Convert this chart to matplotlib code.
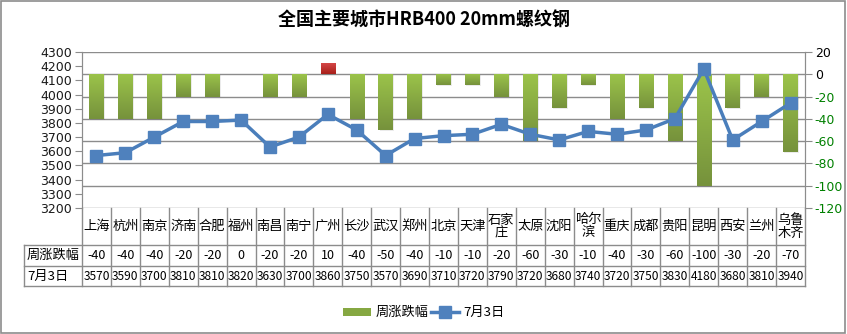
import numpy as np
import matplotlib
matplotlib.use("Agg")
import matplotlib.pyplot as plt
from matplotlib.colors import LinearSegmentedColormap
from matplotlib.patches import Rectangle

plt.rcParams['font.family'] = ['Noto Sans CJK SC', 'DejaVu Sans']

# ---- data ----
cities = ["上海", "杭州", "南京", "济南", "合肥", "福州", "南昌", "南宁", "广州", "长沙",
          "武汉", "郑州", "北京", "天津", "石家\n庄", "太原", "沈阳", "哈尔\n滨", "重庆", "成都",
          "贵阳", "昆明", "西安", "兰州", "乌鲁\n木齐"]
weekly_change = [-40, -40, -40, -20, -20, 0, -20, -20, 10, -40,
                 -50, -40, -10, -10, -20, -60, -30, -10, -40, -30,
                 -60, -100, -30, -20, -70]
price_0703 = [3570, 3590, 3700, 3810, 3810, 3820, 3630, 3700, 3860, 3750,
              3570, 3690, 3710, 3720, 3790, 3720, 3680, 3740, 3720, 3750,
              3830, 4180, 3680, 3810, 3940]
row_names = ["周涨跌幅", "7月3日"]
left_ticks = np.arange(3200, 4301, 100)
right_ticks = np.arange(-120, 21, 20)

W, H = 847, 334
fig = plt.figure(figsize=(W / 100, H / 100), dpi=100)

# pixel -> figure fraction helpers
def fx(px):
    return px / W

def fy(py):
    return 1 - py / H

x_left, x_right, y_top, y_bot = 82, 805, 52, 208
ax = fig.add_axes([fx(x_left), fy(y_bot), fx(x_right - x_left), (y_bot - y_top) / H])
ax2 = ax.twinx()

n = len(cities)
x = np.arange(n)

# right axis: weekly change bars
for yv in right_ticks:
    ax2.axhline(yv, color="#8c8c8c", lw=1, zorder=0)

green = LinearSegmentedColormap.from_list("g", ["#76923c", "#9bc34a"])
red = LinearSegmentedColormap.from_list("r", ["#a8201a", "#d84a4a"])
grad = np.linspace(0, 1, 64).reshape(-1, 1)
bars = ax2.bar(x, weekly_change, width=0.5, color="none", edgecolor="none", zorder=2)
for b, v in zip(bars, weekly_change):
    if v == 0:
        continue
    x0 = b.get_x()
    x1 = x0 + b.get_width()
    y0, y1 = min(0, v), max(0, v)
    cmap = green if v < 0 else red
    ax2.add_patch(Rectangle((x0 + 0.04, y0 - 0.8), b.get_width(), y1 - y0,
                            color="#000000", alpha=0.08, lw=0, zorder=1))
    im = ax2.imshow(grad, cmap=cmap, extent=(x0, x1, y0, y1), aspect="auto",
                    origin="lower", zorder=2)
    im.set_clip_path(b)
ax2.set_xlim(-0.5, n - 0.5)
ax2.set_ylim(-120, 20)
ax2.set_yticks(right_ticks)
ax2.set_yticklabels([str(v) for v in right_ticks], family="DejaVu Sans")

# left axis: price line
ax.set_ylim(3200, 4300)
ax.set_yticks(left_ticks)
ax.set_yticklabels([str(v) for v in left_ticks], family="DejaVu Sans")
ax.set_xlim(-0.5, n - 0.5)
ax.set_zorder(ax2.get_zorder() + 1)
ax.patch.set_visible(False)
ax.plot(x, price_0703, color="#4a7ebb", lw=2.5, marker="s", markersize=8,
        markerfacecolor="#4f81bd", markeredgecolor="#4f81bd", zorder=3)

for a in (ax, ax2):
    a.set_xticks([])
    for s in ("top", "bottom"):
        a.spines[s].set_visible(False)
    a.spines["left"].set_color("#8c8c8c")
    a.spines["right"].set_color("#8c8c8c")
    a.tick_params(axis="y", length=5, color="#8c8c8c", labelsize=9, pad=2)
ax.tick_params(axis="y", labelcolor="#1a1a1a")
for lbl, v in zip(ax2.get_yticklabels(), right_ticks):
    lbl.set_color("#008000" if v < 0 else "#000000")

# ---- data table below the chart ----
row_city = (208, 245)
row1 = (245, 266)
row2 = (266, 286)
tbl_left = 24
lc = "#8c8c8c"

def hline(py, xa, xb):
    fig.add_artist(plt.Line2D([fx(xa), fx(xb)], [fy(py), fy(py)], color=lc, lw=1))

def vline(px, ya, yb):
    fig.add_artist(plt.Line2D([fx(px), fx(px)], [fy(ya), fy(yb)], color=lc, lw=1))

for py in (245, 266, 286):
    hline(py, tbl_left, x_right)
vline(tbl_left, 245, 286)
vline(x_left, 208, 286)
cw = (x_right - x_left) / n
for i in range(n):
    vline(x_left + cw * (i + 1), 208, 286)

for i in range(n):
    cx = fx(x_left + cw * (i + 0.5))
    fig.text(cx, fy(sum(row_city) / 2), cities[i], ha="center", va="center",
             fontsize=9.5, linespacing=1.0)
    fig.text(cx, fy(sum(row1) / 2), str(weekly_change[i]), ha="center", va="center",
             fontsize=9)
    fig.text(cx, fy(sum(row2) / 2), str(price_0703[i]), ha="center", va="center",
             fontsize=8.6)
fig.text(fx(tbl_left + 3), fy(sum(row1) / 2), row_names[0], ha="left", va="center", fontsize=9.5)
fig.text(fx(tbl_left + 3), fy(sum(row2) / 2), row_names[1], ha="left", va="center", fontsize=9.5)

# ---- legend ----
ly = fy(312)
fig.add_artist(Rectangle((fx(343), fy(316)), fx(28), 8 / H, color="#86a842", lw=0))
fig.text(fx(376), ly, "周涨跌幅", ha="left", va="center", fontsize=9.5)
fig.add_artist(plt.Line2D([fx(431), fx(459)], [ly, ly], color="#4a7ebb", lw=2.5))
fig.add_artist(plt.Line2D([fx(445)], [ly], color="#4f81bd", marker="s", markersize=8, lw=0))
fig.text(fx(463), ly, "7月3日", ha="left", va="center", fontsize=9.5)

# ---- title ----
fig.text(0.5, fy(20), "全国主要城市HRB400 20mm螺纹钢", ha="center", va="center",
         fontsize=13, fontweight="bold")

# outer border
fig.add_artist(Rectangle((0.001, 0.002), 0.997, 0.995, transform=fig.transFigure,
                         fill=False, edgecolor="#8c8c8c", lw=1.2))

fig.savefig("out.png", dpi=100)
